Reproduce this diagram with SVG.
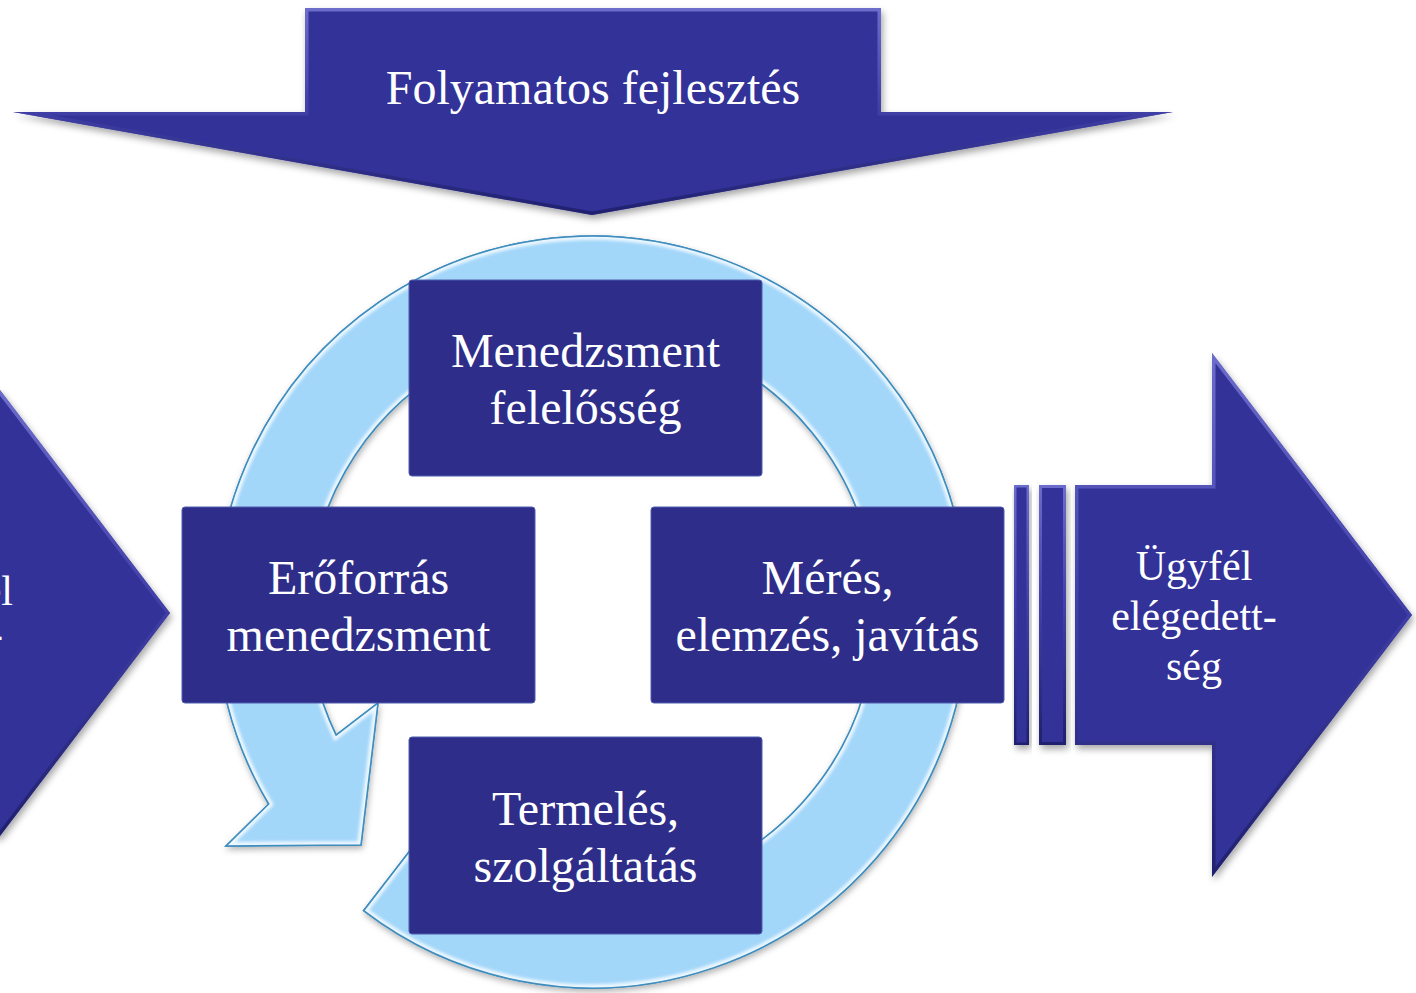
<svg xmlns="http://www.w3.org/2000/svg" xmlns:xlink="http://www.w3.org/1999/xlink" width="1416" height="993" viewBox="0 0 1416 993">
<style>
  .arrow { fill: #333399; }
  .bevel { fill: none; stroke: url(#bevelDark); stroke-width: 7; opacity: 0.75; }
  .box { fill: #2E2E8A; stroke: #4F5CB0; stroke-width: 1; }
  .ring { fill: #A3D7FA; stroke: #3E8DBF; stroke-width: 1.5; }
  .ringbevel { fill: none; stroke: #FFFFFF; stroke-width: 8; opacity: 0.8; }
  .lbl { font-family: "Liberation Serif", "Times New Roman", serif; fill: #FFFFFF; text-anchor: middle; }
  .big { font-size: 48px; }
  .mid { font-size: 42px; }
</style>
<defs>
  <filter id="shadow" x="-10%" y="-10%" width="125%" height="130%">
    <feDropShadow dx="2" dy="4" stdDeviation="3.5" flood-color="#000000" flood-opacity="0.35"/>
  </filter>
  <filter id="softshadow" x="-10%" y="-10%" width="125%" height="130%">
    <feDropShadow dx="1" dy="3" stdDeviation="3" flood-color="#000000" flood-opacity="0.3"/>
  </filter>
  <filter id="blur2"><feGaussianBlur stdDeviation="1.5"/></filter>
  <linearGradient id="bevelDark" x1="0" y1="0" x2="0" y2="1">
    <stop offset="0" stop-color="#8080DD"/>
    <stop offset="0.45" stop-color="#4747B0"/>
    <stop offset="1" stop-color="#1A1A60"/>
  </linearGradient>
  <path id="topShape" d="M305,8 L881,8 L881,112 L1173,112 L592,215 L13,112 L305,112 Z"/>
  <path id="leftShape" d="M-60,390 L0,390 L170,613 L0,836 L-60,836 Z"/>
  <path id="rightBody" d="M1075,485 L1212,485 L1212,353 L1412,615 L1212,877 L1212,745 L1075,745 Z"/>
  <path id="stripe1" d="M1014,485 L1029,485 L1029,745 L1014,745 Z"/>
  <path id="stripe2" d="M1039,485 L1066,485 L1066,745 L1039,745 Z"/>
  <path id="ringShape" d="M363.6,910.7 A376,376 0 1 0 268.7,804 L226,846 L361,845 L378,703 L336.1,735.2 A284,284 0 1 1 419.9,837.9 Z"/>
  <clipPath id="clipTop"><use xlink:href="#topShape"/></clipPath>
  <clipPath id="clipLeft"><use xlink:href="#leftShape"/></clipPath>
  <clipPath id="clipRight"><use xlink:href="#rightBody"/></clipPath>
  <clipPath id="clipS1"><use xlink:href="#stripe1"/></clipPath>
  <clipPath id="clipS2"><use xlink:href="#stripe2"/></clipPath>
  <clipPath id="clipRing"><use xlink:href="#ringShape"/></clipPath>
</defs>

<rect x="0" y="0" width="1416" height="993" fill="#FFFFFF"/>

<g id="top-arrow">
  <use xlink:href="#topShape" class="arrow" filter="url(#shadow)"/>
  <use xlink:href="#topShape" class="bevel" clip-path="url(#clipTop)"/>
  <text class="lbl big" x="593" y="104">Folyamatos fejlesztés</text>
</g>

<g id="left-arrow">
  <use xlink:href="#leftShape" class="arrow" filter="url(#shadow)"/>
  <use xlink:href="#leftShape" class="bevel" clip-path="url(#clipLeft)"/>
  <text class="lbl mid" x="13" y="605" style="text-anchor:end">Ügyfél</text>
  <text class="lbl mid" x="3" y="648" style="text-anchor:end">követel-</text>
</g>

<g id="connectors">
  <g id="cycle-arrow">
    <use xlink:href="#ringShape" class="ring" filter="url(#softshadow)"/>
    <g clip-path="url(#clipRing)">
      <use xlink:href="#ringShape" class="ringbevel" filter="url(#blur2)"/>
    </g>
    <use xlink:href="#ringShape" fill="none" stroke="#3E8DBF" stroke-width="1.5"/>
  </g>
</g>

<g id="box-management">
  <rect class="box" x="409" y="280" width="353" height="196" rx="3"/>
  <text class="lbl big" x="585.5" y="367">Menedzsment</text>
  <text class="lbl big" x="585.5" y="424">felelősség</text>
</g>

<g id="box-resources">
  <rect class="box" x="182" y="507" width="353" height="196" rx="3"/>
  <text class="lbl big" x="358.5" y="594">Erőforrás</text>
  <text class="lbl big" x="358.5" y="651">menedzsment</text>
</g>

<g id="box-measurement">
  <rect class="box" x="651" y="507" width="353" height="196" rx="3"/>
  <text class="lbl big" x="827.5" y="594">Mérés,</text>
  <text class="lbl big" x="827.5" y="651">elemzés, javítás</text>
</g>

<g id="box-production">
  <rect class="box" x="409" y="737" width="353" height="197" rx="3"/>
  <text class="lbl big" x="585.5" y="825">Termelés,</text>
  <text class="lbl big" x="585.5" y="882">szolgáltatás</text>
</g>

<g id="right-arrow">
  <use xlink:href="#stripe1" class="arrow" filter="url(#shadow)"/>
  <use xlink:href="#stripe1" class="bevel" clip-path="url(#clipS1)" style="stroke-width:5"/>
  <use xlink:href="#stripe2" class="arrow" filter="url(#shadow)"/>
  <use xlink:href="#stripe2" class="bevel" clip-path="url(#clipS2)" style="stroke-width:6"/>
  <use xlink:href="#rightBody" class="arrow" filter="url(#shadow)"/>
  <use xlink:href="#rightBody" class="bevel" clip-path="url(#clipRight)"/>
  <text class="lbl mid" x="1194" y="580">Ügyfél</text>
  <text class="lbl mid" x="1194" y="630">elégedett-</text>
  <text class="lbl mid" x="1194" y="680">ség</text>
</g>
</svg>
